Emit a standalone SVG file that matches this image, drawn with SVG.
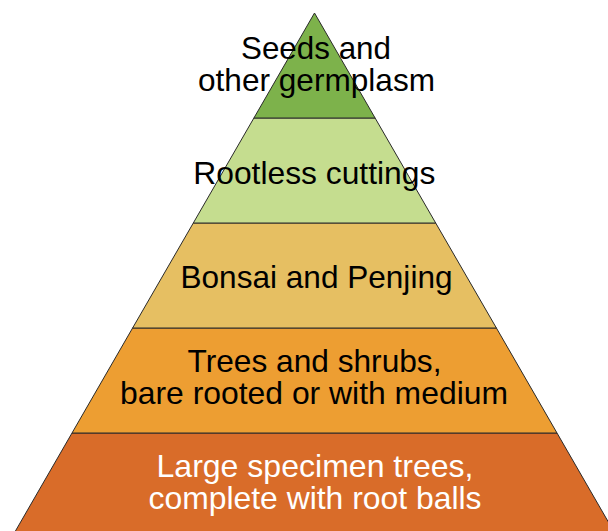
<svg xmlns="http://www.w3.org/2000/svg" width="608" height="531" viewBox="0 0 608 531">
<style>
.tier{stroke:#2a2a2a;stroke-width:1;stroke-linejoin:round}
.lbl{font-family:"Liberation Sans",Arial,sans-serif;font-size:30.5px;text-anchor:middle;fill:#000}
.w{fill:#fff}
</style>
<rect width="608" height="531" fill="#fff"/>
<g id="connectors"/>
<g id="tier5">
<polygon class="tier" fill="#d96c29" points="72,433 557,433 617.6,538 11.4,538"/>
<text class="lbl w"><tspan x="315" y="476.5" textLength="317" lengthAdjust="spacingAndGlyphs">Large specimen trees,</tspan><tspan x="315" y="508.5" textLength="333" lengthAdjust="spacingAndGlyphs">complete with root balls</tspan></text>
</g>
<g id="tier4">
<polygon class="tier" fill="#ed9e32" points="132.6,328 496.4,328 557,433 72,433"/>
<text class="lbl"><tspan x="314.5" y="371.5" textLength="254" lengthAdjust="spacingAndGlyphs">Trees and shrubs,</tspan><tspan x="314" y="403.5" textLength="388" lengthAdjust="spacingAndGlyphs">bare rooted or with medium</tspan></text>
</g>
<g id="tier3">
<polygon class="tier" fill="#e6bf62" points="193.3,223 435.7,223 496.4,328 132.6,328"/>
<text class="lbl" x="316.5" y="288.3" textLength="272" lengthAdjust="spacingAndGlyphs">Bonsai and Penjing</text>
</g>
<g id="tier2">
<polygon class="tier" fill="#c5dd8f" points="253.9,118 375.1,118 435.7,223 193.3,223"/>
<text class="lbl" x="314.3" y="184.3" textLength="242" lengthAdjust="spacingAndGlyphs">Rootless cuttings</text>
</g>
<g id="tier1">
<polygon class="tier" fill="#7db24b" points="314.5,13 375.1,118 253.9,118"/>
<text class="lbl"><tspan x="316" y="59.3" textLength="150" lengthAdjust="spacingAndGlyphs">Seeds and</tspan><tspan x="316.5" y="91.3" textLength="237" lengthAdjust="spacingAndGlyphs">other germplasm</tspan></text>
</g>
</svg>
